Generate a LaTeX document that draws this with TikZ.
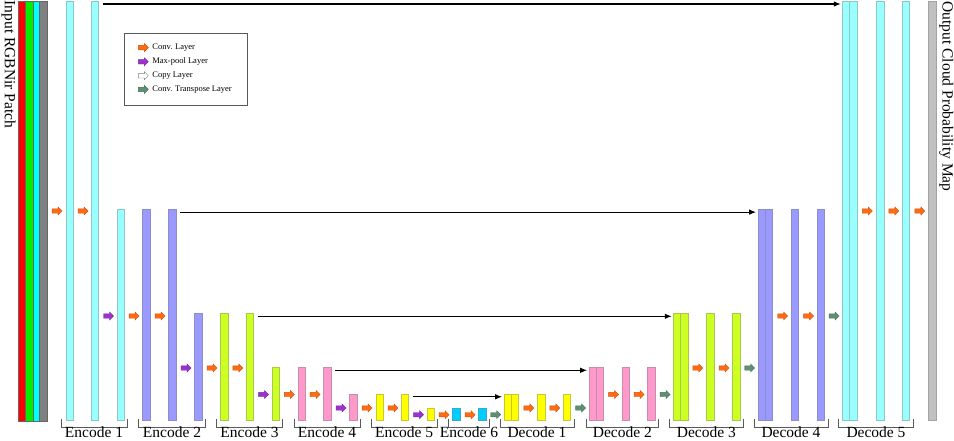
\documentclass[tikz,border=0pt]{standalone}
\usepackage{fontspec}
\setmainfont{Liberation Serif}
\usetikzlibrary{shapes.arrows,arrows.meta,calc}
\definecolor{cyanbar}{HTML}{99FFFF}
\definecolor{bluebar}{HTML}{9999FF}
\definecolor{greenbar}{HTML}{CCFF22}
\definecolor{yellowbar}{HTML}{FFFF00}
\definecolor{pinkbar}{HTML}{FF99CC}
\definecolor{skybar}{HTML}{00CCFF}
\definecolor{graybar}{HTML}{C0C0C0}
\definecolor{inred}{HTML}{FF0000}
\definecolor{ingreen}{HTML}{00EE00}
\definecolor{incyan}{HTML}{00FFFF}
\definecolor{ingray}{HTML}{808080}
\definecolor{convc}{HTML}{FF6A13}
\definecolor{poolc}{HTML}{9933CC}
\definecolor{transc}{HTML}{5F8F73}
\begin{document}
\begin{tikzpicture}[x=1pt,y=-1pt,
  fmap/.style={rectangle, draw=#1!55!gray, fill=#1, line width=0.7pt,
    minimum width=7.3pt, inner sep=0pt, anchor=south west},
  inbar/.style={rectangle, draw=black!60, fill=#1, line width=0.5pt,
    minimum width=7.1pt, minimum height=420pt, inner sep=0pt, anchor=south west},
  blkbase/.style={single arrow, minimum height=10pt, inner xsep=0pt, inner ysep=2pt,
    single arrow head extend=1.8pt, line width=0.4pt},
  blk/.style={blkbase, fill=#1, draw=#1!80!black},
  convarr/.style={blk=convc},
  poolarr/.style={blk=poolc},
  transarr/.style={blk=transc},
  copyarr/.style={blkbase, fill=white, draw=gray},
  skip/.style={-{Latex[length=7pt,width=5.5pt]}, line width=1.1pt, black, shorten >=1.5pt},
  brk/.style={draw=black!65, line width=0.9pt},
  lbl/.style={font=\fontsize{15.5}{18}\selectfont, anchor=base, inner sep=0pt},
  leg/.style={font=\fontsize{8.5}{10}\selectfont, anchor=west, inner sep=0pt}
]
\useasboundingbox (0,0) rectangle (954,440);

% input patch
\node[inbar=inred]   (inr) at (18.3,421) {};
\node[inbar=ingreen] (ing) at (25.4,421) {};
\node[inbar=incyan]  (inc) at (32.5,421) {};
\node[inbar=ingray]  (ink) at (39.4,421) {};
\node[font=\fontsize{15.5}{18}\selectfont, rotate=-90, anchor=base west, inner sep=0pt]
  (intxt) at (5,0.5) {Input RGBNir Patch};

% feature maps
\foreach \nm/\xx/\tp/\cc in {
  e1a/65.5/1.3/cyanbar, e1b/91/1.3/cyanbar, e1c/116.5/210/cyanbar,
  e2a/142.3/210/bluebar, e2b/168.3/210/bluebar, e2c/194.3/314/bluebar,
  e3a/220.3/314/greenbar, e3b/246/314/greenbar, e3c/271.7/368/greenbar,
  e4a/297.5/368/pinkbar, e4b/323.3/368/pinkbar, e4c/349.3/394.5/pinkbar,
  e5a/375.7/394.5/yellowbar, e5b/401/394.5/yellowbar, e5c/426.7/408.3/yellowbar,
  e6a/452.3/408.3/skybar, e6b/478.3/408.3/skybar,
  d1a/503.7/394.5/yellowbar, d1s/511/394.5/yellowbar, d1b/537.3/394.5/yellowbar, d1c/563/394.5/yellowbar,
  d2a/588.7/368/pinkbar, d2s/596/368/pinkbar, d2b/621.7/368/pinkbar, d2c/647.3/368/pinkbar,
  d3a/673.3/314/greenbar, d3s/680.3/314/greenbar, d3b/706.3/314/greenbar, d3c/732.3/314/greenbar,
  d4a/757.7/210/bluebar, d4s/765/210/bluebar, d4b/791/210/bluebar, d4c/816.7/210/bluebar,
  d5a/842.3/1.3/cyanbar, d5s/849.3/1.3/cyanbar, d5b/876.3/1.3/cyanbar, d5c/902/1.3/cyanbar,
  out/928.3/1.3/graybar}
  \node[fmap=\cc, minimum height={421pt-\tp pt}] (\nm) at (\xx,421) {};

\node[font=\fontsize{15.5}{18}\selectfont, rotate=-90, anchor=base west, inner sep=0pt]
  (outtxt) at (942.5,1.5) {Output Cloud Probability Map};

% skip connections
\coordinate (s1) at ($(e1b.north east)+(3.6,3.4)$);
\coordinate (s2) at ($(e2b.north east)+(3.6,2.8)$);
\coordinate (s3) at ($(e3b.north east)+(3.6,3)$);
\coordinate (s4) at ($(e4b.north east)+(3.6,3)$);
\coordinate (s5) at ($(e5b.north east)+(3.6,3)$);
\draw[skip] (s1) -- (s1 -| d5a.west);
\draw[skip] (s2) -- (s2 -| d4a.west);
\draw[skip] (s3) -- (s3 -| d3a.west);
\draw[skip] (s4) -- (s4 -| d2a.west);
\draw[skip] (s5) -- (s5 -| d1a.west);

% layer arrows
\foreach \xx/\yy/\st [count=\i] in {
  56/211/convarr, 81.9/211/convarr, 107.4/316/poolarr,
  133/316/convarr, 159/316/convarr, 185/368/poolarr,
  211/368/convarr, 236.8/368/convarr, 262.5/394.5/poolarr,
  288.3/394.5/convarr, 314/394.5/convarr, 340/408/poolarr,
  366/408/convarr, 392/408/convarr, 417.5/414.7/poolarr,
  443/414.7/convarr, 469/414.7/convarr, 494.6/414.7/transarr,
  527.8/408/convarr, 553.8/408/convarr, 579.5/408/transarr,
  612.5/394.5/convarr, 638/394.5/convarr, 664/394.5/transarr,
  696.8/368/convarr, 723/368/convarr, 748.6/368/transarr,
  781.6/316/convarr, 807.5/316/convarr, 833/316/transarr,
  866.3/211/convarr, 892.8/211/convarr, 918.8/211/convarr}
  \node[\st] (ar\i) at (\xx,\yy) {};

% legend
\node[draw=black!65, line width=0.7pt, rectangle, minimum width=123pt,
  minimum height=72.5pt, inner sep=0pt, anchor=north west] (legend) at (124.3,32.5) {};
\node[convarr]  (lg1) at (142.3,47.6) {};
\node[poolarr]  (lg2) at (142.3,61.8) {};
\node[copyarr]  (lg3) at (142.3,75.8) {};
\node[transarr] (lg4) at (142.3,89.4) {};
\node[leg] (lt1) at (152.2,47.3) {Conv. Layer};
\node[leg] (lt2) at (152.2,61.5) {Max-pool Layer};
\node[leg] (lt3) at (152.2,75.5) {Copy Layer};
\node[leg] (lt4) at (152.2,89.1) {Conv. Transpose Layer};

% brackets and labels
\foreach \xa/\xb/\tx [count=\i] in {
  61/127/Encode 1, 138.7/205.3/Encode 2, 216.3/282.7/Encode 3,
  294/360/Encode 4, 371/437.3/Encode 5, 448.5/489.5/Encode 6,
  500/574/Decode 1, 586/658.7/Decode 2, 669.3/743.3/Decode 3,
  754/828/Decode 4, 838.7/913.3/Decode 5}
{
  \draw[brk] (\xa,418.5) -- (\xa,427) -- (\xb,427) -- (\xb,418.5);
  \node[lbl] (lb\i) at ({(\xa+\xb)/2},437.8) {\tx};
}
\end{tikzpicture}
\end{document}
